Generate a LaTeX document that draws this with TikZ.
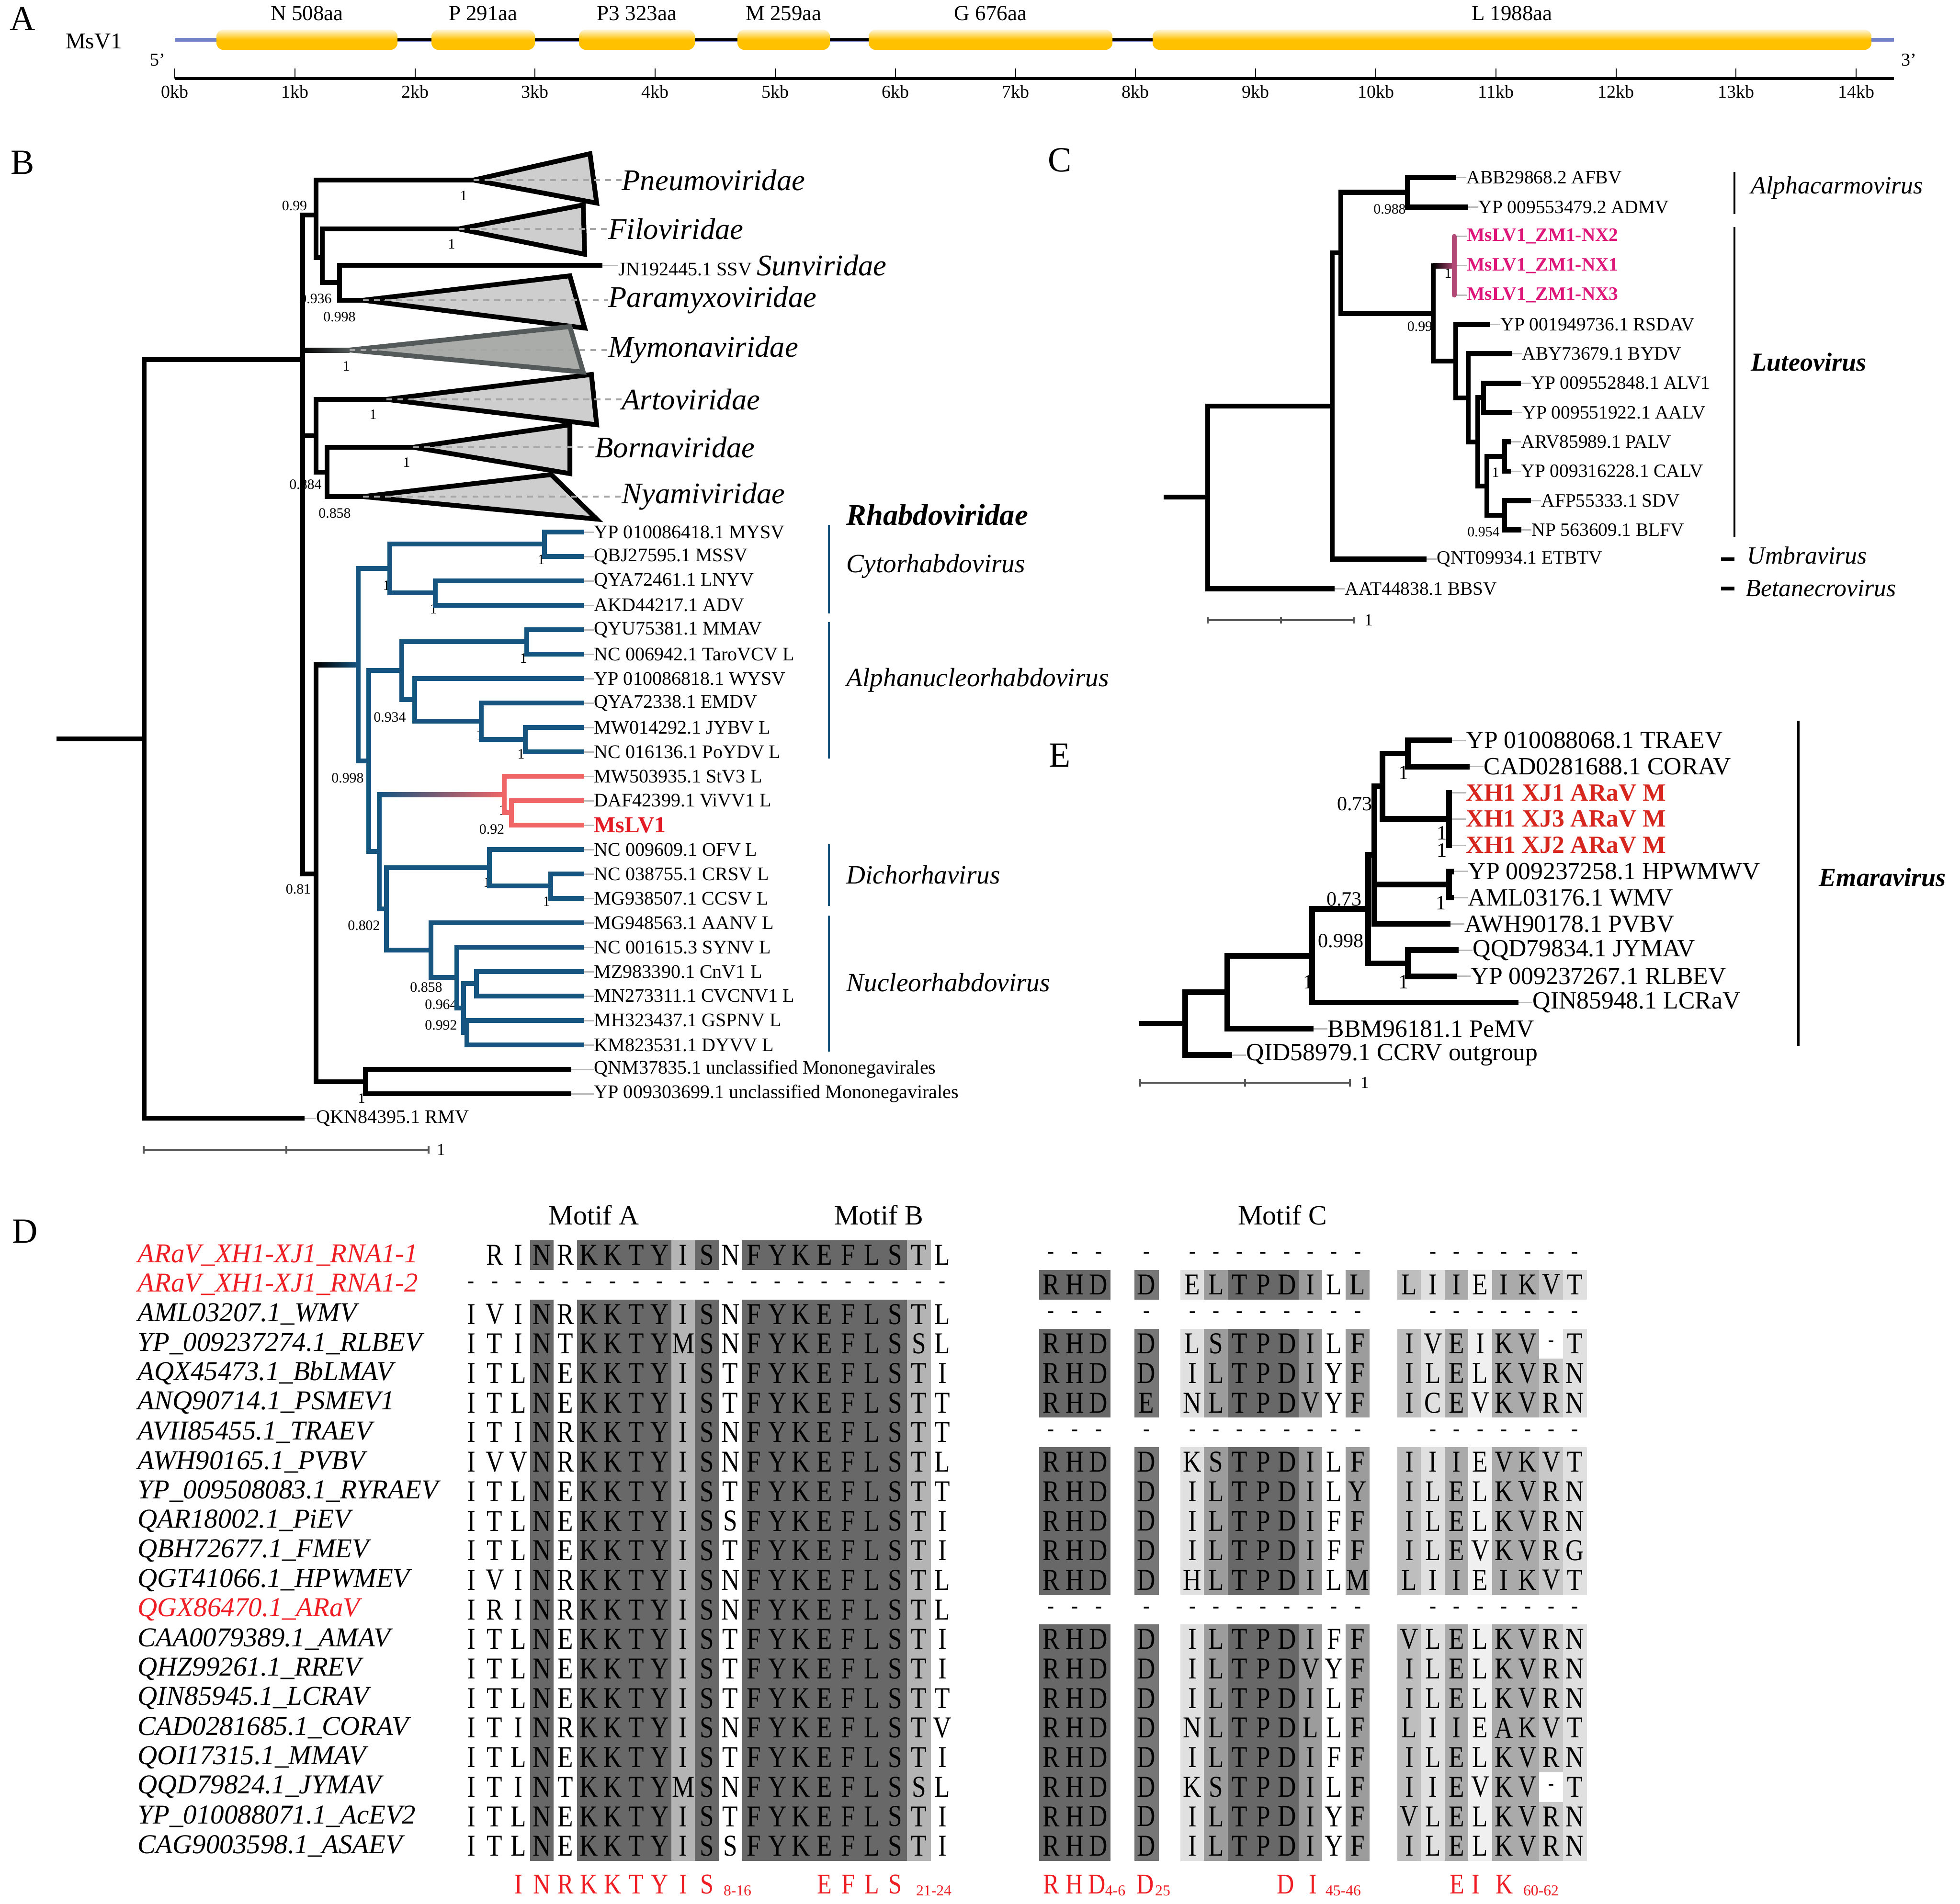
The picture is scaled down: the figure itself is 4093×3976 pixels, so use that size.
\documentclass[tikz,border=0pt]{standalone}
\usepackage{fontspec}
\setmainfont{Liberation Serif}
\newfontfamily\seqfont{Liberation Serif}[FakeStretch=0.84]
\usetikzlibrary{calc}

\definecolor{rhabdo}{RGB}{21,85,128}
\definecolor{salmon}{RGB}{240,102,102}
\definecolor{mslvred}{RGB}{228,26,36}
\definecolor{nxpink}{RGB}{222,22,122}
\definecolor{nxbranch}{RGB}{178,72,118}
\definecolor{genecol}{RGB}{255,193,0}
\definecolor{genomeblue}{RGB}{112,128,200}
\definecolor{cladefill}{RGB}{206,206,206}
\definecolor{mymofill}{RGB}{170,172,170}
\definecolor{mymoedge}{RGB}{84,90,90}
\definecolor{aravred}{RGB}{214,38,30}
\definecolor{namered}{RGB}{238,30,36}
\definecolor{shdark}{RGB}{104,104,104}
\definecolor{shdarkb}{RGB}{118,118,118}
\definecolor{shmid}{RGB}{156,156,156}
\definecolor{shlight}{RGB}{180,180,180}
\definecolor{shpale}{RGB}{224,224,224}
\definecolor{shgrey}{RGB}{170,170,170}
\definecolor{shsoft}{RGB}{190,190,190}
\definecolor{shfaint}{RGB}{240,240,240}
\definecolor{shlt}{RGB}{200,200,200}
\newcommand\fsz[1]{\fontsize{#1}{#1}\selectfont}

\begin{document}
\begin{tikzpicture}
[x=0.01cm, y=-0.01cm,
declare function={rowy(\x)=2621+61.7*\x; colab(\x)=984+49.2*\x;
  colc(\x)=(\x<3)*(2195+49.5*\x)+(\x==3)*2394+(\x>3)*(\x<12)*(2490+49.3*(\x-4))+(\x>11)*(2943+49.4*(\x-12));},
panel/.style={font=\fsz{21}},
brB/.style={line width=2.85pt, line cap=rect},
brR/.style={brB, draw=rhabdo},
brS/.style={brB, draw=salmon},
brC/.style={line width=3.1pt, line cap=rect},
brE/.style={line width=3.4pt, line cap=rect},
clade/.style={draw, fill=cladefill, line width=2.85pt, line join=miter},
cladedash/.style={draw=gray!70, line width=0.9pt, dash pattern=on 3.5pt off 3pt},
tipdash/.style={draw=gray!55, line width=0.85pt},
leafB/.style={anchor=west, inner sep=0pt, font=\fsz{11.4}},
family/.style={anchor=west, inner sep=0pt, font=\fsz{17.8}\itshape},
genus/.style={anchor=west, inner sep=0pt, font=\fsz{15.7}\itshape},
sup/.style={inner sep=0pt, font=\fsz{8.5}},
supE/.style={inner sep=0pt, font=\fsz{12}},
leafC/.style={anchor=west, inner sep=0pt, font=\fsz{11.2}},
leafE/.style={anchor=west, inner sep=0pt, font=\fsz{14.7}},
scalebar/.style={draw=black!65, line width=0.9pt},
genebox/.style={rounded corners=4pt, top color=genecol!15, bottom color=genecol, middle color=genecol},
genelab/.style={font=\fsz{12.8}},
kb/.style={font=\fsz{10.8}},
seqname/.style={anchor=west, inner sep=0pt, font=\fsz{16.2}\itshape},
aa/.style={inner sep=0pt, font=\fsz{18}\seqfont},
gapmark/.style={inner sep=0pt, font=\fsz{12}\bfseries},
motif/.style={font=\fsz{16.5}},
keyaa/.style={inner sep=0pt, font=\fsz{17}\seqfont, text=namered},
keypos/.style={inner sep=0pt, font=\fsz{9}, text=namered}]

\fill[white] (0,0) rectangle (4093,3976);
\useasboundingbox (0,0) rectangle (4093,3976);

\node[panel] (pA) at (47,39) {A};
\node[font=\fsz{13.4}] (msv) at (196,86) {MsV1};
\coordinate (g5) at (365,83);
\coordinate (g3) at (3955,83);
\draw[genomeblue, line width=2.3pt] (g5) -- (g3);
\draw[line width=1.7pt] ($(g5)+(92,0)$) -- ($(g3)+(-53,0)$);
\foreach \xa/\xb/\lab [count=\q] in {452/830/N 508aa, 901/1117/P 291aa, 1209/1451/P3 323aa, 1540/1733/M 259aa, 1814/2323/G 676aa, 2407/3908/L 1988aa} {
    \shade[genebox] (\xa,62) rectangle (\xb,104);
    \node[genelab] (gene\q) at ({(\xa+\xb)/2},28) {\lab};
}
\coordinate (r0) at (365,164);
\coordinate (r1) at (3955,164);
\draw[line width=1.6pt] (r0) -- (r1);
\foreach \kk in {0,...,14} {
    \draw[line width=0.6pt] (365+250.8*\kk,164) -- ++(0,-21);
    \node[kb] (kb\kk) at (365+250.8*\kk,192) {\kk kb};
}
\node[kb] (p5) at (329,125) {5'};
\node[kb] (p3) at (3986,125) {3'};

\node[panel] (pB) at (47,339) {B};
\foreach \val/\sx/\sy [count=\q] in {0.99/615/430, 1/968/409, 1/943/510, 0.936/659/624, 0.998/709/662, 1/723/765, 1/779/866, 1/849/966, 0.884/638/1012, 0.858/699/1072, 1/1130/1169, 1/807/1223, 1/905/1272, 1/1093/1375, 0.934/814/1498, 1/1088/1575, 1/1002/1535, 0.998/726/1625, 1/1049/1692, 0.92/1027/1732, 1/1017/1843, 1/1141/1883, 0.81/623/1857, 0.802/760/1933, 0.858/890/2062, 0.964/921/2098, 0.992/921/2141, 1/755/2294}
    \node[sup] (bs\q) at (\sx,\sy) {\val};

\foreach \lab [count=\kk from 0] in {YP 010086418.1 MYSV, QBJ27595.1 MSSV, QYA72461.1 LNYV, AKD44217.1 ADV, QYU75381.1 MMAV, NC 006942.1 TaroVCV L, YP 010086818.1 WYSV, QYA72338.1 EMDV, MW014292.1 JYBV L, NC 016136.1 PoYDV L, MW503935.1 StV3 L, DAF42399.1 ViVV1 L, \textcolor{mslvred}{\fsz{13.6}\bfseries MsLV1}, NC 009609.1 OFV L, NC 038755.1 CRSV L, MG938507.1 CCSV L, MG948563.1 AANV L, NC 001615.3 SYNV L, MZ983390.1 CnV1 L, MN273311.1 CVCNV1 L, MH323437.1 GSPNV L, KM823531.1 DYVV L, QNM37835.1 unclassified Mononegavirales, YP 009303699.1 unclassified Mononegavirales} {
    \pgfmathsetmacro\tipx{\kk<22 ? 1215 : 1188}
    \coordinate (bleaf\kk) at (\tipx,1111+51*\kk);
    \node[leafB] (blab\kk) at (1240,1111+51*\kk) {\lab};
    \draw[tipdash] (bleaf\kk) -- (blab\kk.west);
}
\coordinate (bleaf24) at (631,2335);
\node[leafB] (blab24) at (660,2335) {QKN84395.1 RMV};
\draw[tipdash] (bleaf24) -- (blab24.west);
\coordinate (ssv) at (1253,554);
\node[leafB] (ssvlab) at (1291,554) {JN192445.1 SSV {\fsz{17.8}\itshape Sunviridae}};
\draw[tipdash] (ssv) -- (ssvlab.west);

\coordinate (b0) at (123,1543);
\coordinate (broot) at (301,1543);
\coordinate (bsp) at (632,751);
\coordinate (b099) at (660,449);
\coordinate (bfilo) at (673,538);
\coordinate (bpara) at (709,590);
\coordinate (barto) at (660,910);
\coordinate (bbn) at (683,986);
\coordinate (bgrp) at (660,1825);
\coordinate (bunc) at (763,2259);
\coordinate (brh) at (748,1388);
\coordinate (bcyto) at (814,1187);
\coordinate (bmm) at (1137,1136);
\coordinate (bla) at (909,1238);
\coordinate (brh2) at (770,1589);
\coordinate (balpha) at (839,1400);
\coordinate (bmt) at (1100,1340);
\coordinate (bwy) at (866,1461);
\coordinate (bem) at (1005,1506);
\coordinate (bjp) at (1097,1544);
\coordinate (bmid) at (792,1778);
\coordinate (bms) at (1053,1659);
\coordinate (bvm) at (1068,1697);
\coordinate (bdn) at (807,1898);
\coordinate (bdi) at (1022,1812);
\coordinate (bcc) at (1150,1850);
\coordinate (bnu) at (900,1984);
\coordinate (bsy) at (954,2041);
\coordinate (bcv) at (968,2105);
\coordinate (bcn) at (995,2054);
\coordinate (bgd) at (975,2156);
\coordinate (apex-pne) at (989,376);
\coordinate (apex-fil) at (958,478);
\coordinate (apex-par) at (758,627);
\coordinate (apex-mym) at (730,731);
\coordinate (apex-art) at (807,834);
\coordinate (apex-bor) at (863,934);
\coordinate (apex-nya) at (758,1037);

\draw[brB] (b0) -- (broot);
\foreach \p/\ch in {broot/bsp, broot/bleaf24, bsp/b099, bsp/barto, bsp/bgrp, b099/apex-pne, b099/bfilo, bfilo/apex-fil, bfilo/bpara, bpara/ssv, bpara/apex-par, barto/apex-art, barto/bbn, bbn/apex-bor, bbn/apex-nya, bgrp/bunc, bunc/bleaf22, bunc/bleaf23}
    \draw[brB] (\p) |- (\ch);
\draw[brB] (bgrp) -- (bgrp |- brh);
\shade[left color=black, right color=rhabdo] ($(bgrp |- brh)+(0,-5)$) rectangle ($(brh)+(0,5)$);
\shade[left color=black, right color=mymoedge] ($(bsp |- apex-mym)+(0,-5)$) rectangle ($(apex-mym)+(0,5)$);
\foreach \p/\ch in {brh/bcyto, brh/brh2, bcyto/bmm, bcyto/bla, bmm/bleaf0, bmm/bleaf1, bla/bleaf2, bla/bleaf3, brh2/balpha, brh2/bmid, balpha/bmt, balpha/bwy, bmt/bleaf4, bmt/bleaf5, bwy/bleaf6, bwy/bem, bem/bleaf7, bem/bjp, bjp/bleaf8, bjp/bleaf9, bmid/bdn, bdn/bdi, bdn/bnu, bdi/bleaf13, bdi/bcc, bcc/bleaf14, bcc/bleaf15, bnu/bleaf16, bnu/bsy, bsy/bleaf17, bsy/bcv, bcv/bcn, bcv/bgd, bcn/bleaf18, bcn/bleaf19, bgd/bleaf20, bgd/bleaf21}
    \draw[brR] (\p) |- (\ch);
\draw[brR] (bmid) -- (bmid |- bms);
\shade[left color=rhabdo, right color=salmon] ($(bmid |- bms)+(0,-5)$) rectangle ($(bms)+(0,5)$);
\foreach \p/\ch in {bms/bleaf10, bms/bvm, bvm/bleaf11, bvm/bleaf12}
    \draw[brS] (\p) |- (\ch);

\foreach \nm/\tx/\ty/\ux/\uy/\lx/\lab in {pne/1232/321/1246/424/1298/Pneumoviridae, fil/1218/428/1221/531/1270/Filoviridae, par/1190/576/1221/685/1270/Paramyxoviridae, art/1235/782/1246/887/1298/Artoviridae, bor/1190/887/1190/989/1242/Bornaviridae, nya/1151/991/1246/1084/1298/Nyamiviridae} {
    \draw[clade] (apex-\nm) -- (\tx,\ty) -- (\ux,\uy) -- cycle;
    \node[family] (fam-\nm) at (\lx,{0} |- apex-\nm) {\lab};
    \draw[cladedash] (apex-\nm) -- (fam-\nm.west);
}
\draw[clade, draw=mymoedge, fill=mymofill] (apex-mym) -- (1190,682) -- (1218,777) -- cycle;
\node[family] (fam-mym) at (1270,731) {Mymonaviridae};
\draw[cladedash] (apex-mym) -- (fam-mym.west);

\node[genus, font=\fsz{17.8}\bfseries\itshape] (rhab) at (1767,1075) {Rhabdoviridae};
\foreach \ya/\yb/\lab/\yl [count=\q] in {1096/1281/Cytorhabdovirus/1182, 1299/1584/Alphanucleorhabdovirus/1420, 1763/1892/Dichorhavirus/1827, 1912/2196/Nucleorhabdovirus/2052} {
    \draw[rhabdo, line width=0.9pt] (1731,\ya) -- (1731,\yb);
    \node[genus] (gen\q) at (1767,\yl) {\lab};
}
\coordinate (sbb0) at (300,2401);
\coordinate (sbb1) at (895,2401);
\draw[scalebar] (sbb0) -- (sbb1);
\foreach \sx in {300,598,895} \draw[scalebar] (\sx,2393) -- (\sx,2409);
\node[font=\fsz{10}] (sbbl) at (921,2401) {1};

\node[panel] (pC) at (2213,334) {C};
\foreach \tx/\lab [count=\kk from 0] in {3036/ABB29868.2 AFBV, 3061/YP 009553479.2 ADMV, 3037/{\textcolor{nxpink}{\bfseries MsLV1\_ZM1-NX2}}, 3037/{\textcolor{nxpink}{\bfseries MsLV1\_ZM1-NX1}}, 3037/{\textcolor{nxpink}{\bfseries MsLV1\_ZM1-NX3}}, 3107/YP 001949736.1 RSDAV, 3152/ABY73679.1 BYDV, 3171/YP 009552848.1 ALV1, 3153/YP 009551922.1 AALV, 3150/ARV85989.1 PALV, 3150/YP 009316228.1 CALV, 3192/AFP55333.1 SDV, 3172/NP 563609.1 BLFV, 2974/QNT09934.1 ETBTV, 2782/AAT44838.1 BBSV} {
    \coordinate (cleaf\kk) at (\tx,371+61.3*\kk);
    \node[leafC] (clab\kk) at (\tx+26,371+61.3*\kk) {\lab};
    \draw[tipdash] (cleaf\kk) -- (clab\kk.west);
}
\foreach \val/\sx/\sy [count=\q] in {0.988/2902/437, 1/3024/571, 0.99/2965/682, 1/3123/987, 0.954/3098/1111}
    \node[sup] (cs\q) at (\sx,\sy) {\val};
\coordinate (c0) at (2435,1038);
\coordinate (croot) at (2522,1038);
\coordinate (ctop) at (2782,848);
\coordinate (cin) at (2800,528);
\coordinate (cac) at (2939,401.5);
\coordinate (clu) at (2993,654.5);
\coordinate (cnx) at (3037,555);
\coordinate (crs) at (3040,754);
\coordinate (cby) at (3066,831);
\coordinate (cal) at (3086,923);
\coordinate (caa) at (3098,830.5);
\coordinate (cps) at (3105,1015);
\coordinate (cpc) at (3142,953.5);
\coordinate (csb) at (3142,1076);
\draw[brC] (c0) -- (croot);
\foreach \p/\ch in {croot/ctop, croot/cleaf14, ctop/cin, ctop/cleaf13, cin/cac, cin/clu, cac/cleaf0, cac/cleaf1, clu/crs, crs/cleaf5, crs/cby, cby/cleaf6, cby/cal, cal/caa, cal/cps, caa/cleaf7, caa/cleaf8, cps/cpc, cps/csb, cpc/cleaf9, cpc/cleaf10, csb/cleaf11, csb/cleaf12}
    \draw[brC] (\p) |- (\ch);
\draw[brC] (clu) -- (clu |- cnx);
\shade[left color=black, right color=nxbranch] ($(clu |- cnx)+(0,-5.5)$) rectangle ($(cnx)+(0,5.5)$);
\draw[nxbranch, line width=2.85pt, line cap=round] (cleaf2) -- (cleaf4);
\draw[line width=1.1pt] (3622,359) -- (3622,447);
\draw[line width=1.1pt] (3622,474) -- (3622,1121);
\draw[line width=2.2pt] (3594,1168) -- (3622,1168);
\draw[line width=2.2pt] (3594,1229) -- (3622,1229);
\node[genus, font=\fsz{14.7}\itshape] (alpc) at (3656,392) {Alphacarmovirus};
\node[genus, font=\fsz{15.4}\bfseries\itshape] (lute) at (3656,756) {Luteovirus};
\node[genus, font=\fsz{14.7}\itshape] (umbr) at (3648,1160) {Umbravirus};
\node[genus, font=\fsz{14.7}\itshape] (betn) at (3645,1229) {Betanecrovirus};
\coordinate (sbc0) at (2522,1295);
\coordinate (sbc1) at (2827,1295);
\draw[scalebar] (sbc0) -- (sbc1);
\foreach \sx in {2522,2675,2827} \draw[scalebar] (\sx,1288) -- (\sx,1302);
\node[font=\fsz{10}] (sbcl) at (2858,1295) {1};

\node[panel] (pE) at (2213,1577) {E};
\foreach \tx/\lab [count=\kk from 0] in {3026/YP 010088068.1 TRAEV, 3063/CAD0281688.1 CORAV, 3026/{\textcolor{aravred}{\bfseries XH1 XJ1 ARaV M}}, 3026/{\textcolor{aravred}{\bfseries XH1 XJ3 ARaV M}}, 3026/{\textcolor{aravred}{\bfseries XH1 XJ2 ARaV M}}, 3030/YP 009237258.1 HPWMWV, 3030/AML03176.1 WMV, 3023/AWH90178.1 PVBV, 3040/QQD79834.1 JYMAV, 3036/YP 009237267.1 RLBEV, 3165/QIN85948.1 LCRaV, 2737/BBM96181.1 PeMV, 2567/QID58979.1 CCRV outgroup} {
    \coordinate (eleaf\kk) at (\tx,1546+54.75*\kk);
    \node[leafE] (elab\kk) at (\tx+35,1546+54.75*\kk) {\lab};
    \draw[tipdash] (eleaf\kk) -- (elab\kk.west);
}
\foreach \val/\sx/\sy [count=\q] in {1/2931/1614, 0.73/2829/1679, 1/3011/1740, 1/3011/1776, 0.73/2807/1878, 1/3009/1886, 0.998/2800/1965, 1/2931/2051, 1/2732/2051}
    \node[supE] (es\q) at (\sx,\sy) {\val};
\coordinate (e0) at (2385,2137.5);
\coordinate (eroot) at (2475,2137.5);
\coordinate (en1) at (2563,2072);
\coordinate (en2) at (2740,1996);
\coordinate (en3) at (2857,1898);
\coordinate (en4) at (2870,1785);
\coordinate (en5) at (2887,1642);
\coordinate (entc) at (2940,1573.5);
\coordinate (enxj) at (3026,1710);
\coordinate (enhw) at (3026,1847);
\coordinate (enjr) at (2940,2011.5);
\draw[brE] (e0) -- (eroot);
\foreach \p/\ch in {eroot/en1, eroot/eleaf12, en1/en2, en1/eleaf11, en2/en3, en2/eleaf10, en3/en4, en3/enjr, enjr/eleaf8, enjr/eleaf9, en4/en5, en4/enhw, en4/eleaf7, enhw/eleaf5, enhw/eleaf6, en5/entc, en5/enxj, entc/eleaf0, entc/eleaf1, enxj/eleaf2, enxj/eleaf3, enxj/eleaf4}
    \draw[brE] (\p) |- (\ch);
\draw[line width=1.4pt] (3755,1505) -- (3755,2184);
\node[genus, font=\fsz{15.4}\bfseries\itshape] (emar) at (3798,1832) {Emaravirus};
\coordinate (sbe0) at (2381,2261);
\coordinate (sbe1) at (2819,2261);
\draw[scalebar] (sbe0) -- (sbe1);
\foreach \sx in {2381,2600,2819} \draw[scalebar] (\sx,2253) -- (\sx,2269);
\node[font=\fsz{10}] (sbel) at (2850,2261) {1};

\node[panel] (pD) at (52,2571) {D};
\foreach \lab/\sx [count=\q] in {Motif A/1240, Motif B/1835, Motif C/2678}
    \node[motif] (motif\q) at (\sx,2537) {\lab};
\foreach \nm/\col [count=\rw from 0] in {ARaV\_XH1-XJ1\_RNA1-1/namered, ARaV\_XH1-XJ1\_RNA1-2/namered, AML03207.1\_WMV/black, YP\_009237274.1\_RLBEV/black, AQX45473.1\_BbLMAV/black, ANQ90714.1\_PSMEV1/black, AVII85455.1\_TRAEV/black, AWH90165.1\_PVBV/black, YP\_009508083.1\_RYRAEV/black, QAR18002.1\_PiEV/black, QBH72677.1\_FMEV/black, QGT41066.1\_HPWMEV/black, QGX86470.1\_ARaV/namered, CAA0079389.1\_AMAV/black, QHZ99261.1\_RREV/black, QIN85945.1\_LCRAV/black, CAD0281685.1\_CORAV/black, QOI17315.1\_MMAV/black, QQD79824.1\_JYMAV/black, YP\_010088071.1\_AcEV2/black, CAG9003598.1\_ASAEV/black}
    \node[seqname, text=\col] (sn\rw) at (287,{rowy(\rw)}) {\nm};

\foreach \xa/\xb/\col in {3/3/shdark, 5/8/shdark, 9/9/shlight, 10/10/shdark, 12/18/shdark, 19/19/shlight} {
    \fill[\col] ({colab(\xa)-24.8},2590) rectangle ({colab(\xb)+24.8},2652);
    \fill[\col] ({colab(\xa)-24.8},2714) rectangle ({colab(\xb)+24.8},3886);
}
\foreach \ra/\rb in {1/1, 3/5, 7/11, 13/20} {
    \pgfmathsetmacro\ya{rowy(\ra)-30.9}
    \pgfmathsetmacro\yb{rowy(\rb)+30.9}
    \fill[shdark] (2170,\ya) rectangle (2319,\yb);
    \fill[shdarkb] (2369,\ya) rectangle (2420,\yb);
    \foreach \col [count=\q from 0] in {shpale,shmid,shdark,shdark,shdark,shmid,white,shmid}
        \fill[\col] (2465+49.3*\q,\ya) rectangle (2514.6+49.3*\q,\yb);
    \foreach \col [count=\q from 0] in {shsoft,shpale,shgrey,shfaint,shgrey,shgrey,shlt,shpale}
        \fill[\col] (2918+49.4*\q,\ya) rectangle (2967.7+49.4*\q,\yb);
}
\foreach \rw in {3,18}
    \fill[white] (3214.4,{rowy(\rw)-30.9}) rectangle (3263.8,{rowy(\rw)+30.9});

\foreach \ch [count=\cc from 1] in {R,I,N,R,K,K,T,Y,I,S,N,F,Y,K,E,F,L,S,T,L}
    \node[aa] (a0-\cc) at ({colab(\cc)},{rowy(0)}) {\ch};
\foreach \cc in {0,...,20}
    \node[gapmark] (ab\cc) at ({colab(\cc)},{rowy(1)}) {-};
\foreach \rw/\seq in {2/{I,V,I,N,R,K,K,T,Y,I,S,N,F,Y,K,E,F,L,S,T,L}, 3/{I,T,I,N,T,K,K,T,Y,M,S,N,F,Y,K,E,F,L,S,S,L}, 4/{I,T,L,N,E,K,K,T,Y,I,S,T,F,Y,K,E,F,L,S,T,I}, 5/{I,T,L,N,E,K,K,T,Y,I,S,T,F,Y,K,E,F,L,S,T,T}, 6/{I,T,I,N,R,K,K,T,Y,I,S,N,F,Y,K,E,F,L,S,T,T}, 7/{I,V,V,N,R,K,K,T,Y,I,S,N,F,Y,K,E,F,L,S,T,L}, 8/{I,T,L,N,E,K,K,T,Y,I,S,T,F,Y,K,E,F,L,S,T,T}, 9/{I,T,L,N,E,K,K,T,Y,I,S,S,F,Y,K,E,F,L,S,T,I}, 10/{I,T,L,N,E,K,K,T,Y,I,S,T,F,Y,K,E,F,L,S,T,I}, 11/{I,V,I,N,R,K,K,T,Y,I,S,N,F,Y,K,E,F,L,S,T,L}, 12/{I,R,I,N,R,K,K,T,Y,I,S,N,F,Y,K,E,F,L,S,T,L}, 13/{I,T,L,N,E,K,K,T,Y,I,S,T,F,Y,K,E,F,L,S,T,I}, 14/{I,T,L,N,E,K,K,T,Y,I,S,T,F,Y,K,E,F,L,S,T,I}, 15/{I,T,L,N,E,K,K,T,Y,I,S,T,F,Y,K,E,F,L,S,T,T}, 16/{I,T,I,N,R,K,K,T,Y,I,S,N,F,Y,K,E,F,L,S,T,V}, 17/{I,T,L,N,E,K,K,T,Y,I,S,T,F,Y,K,E,F,L,S,T,I}, 18/{I,T,I,N,T,K,K,T,Y,M,S,N,F,Y,K,E,F,L,S,S,L}, 19/{I,T,L,N,E,K,K,T,Y,I,S,T,F,Y,K,E,F,L,S,T,I}, 20/{I,T,L,N,E,K,K,T,Y,I,S,S,F,Y,K,E,F,L,S,T,I}} {
    \foreach \ch [count=\cc from 0] in \seq
        \node[aa] (a\rw-\cc) at ({colab(\cc)},{rowy(\rw)}) {\ch};
}
\foreach \rw/\seq in {1/{R,H,D,D,E,L,T,P,D,I,L,L,L,I,I,E,I,K,V,T}, 3/{R,H,D,D,L,S,T,P,D,I,L,F,I,V,E,I,K,V,{\fsz{12}\bfseries -},T}, 4/{R,H,D,D,I,L,T,P,D,I,Y,F,I,L,E,L,K,V,R,N}, 5/{R,H,D,E,N,L,T,P,D,V,Y,F,I,C,E,V,K,V,R,N}, 7/{R,H,D,D,K,S,T,P,D,I,L,F,I,I,I,E,V,K,V,T}, 8/{R,H,D,D,I,L,T,P,D,I,L,Y,I,L,E,L,K,V,R,N}, 9/{R,H,D,D,I,L,T,P,D,I,F,F,I,L,E,L,K,V,R,N}, 10/{R,H,D,D,I,L,T,P,D,I,F,F,I,L,E,V,K,V,R,G}, 11/{R,H,D,D,H,L,T,P,D,I,L,M,L,I,I,E,I,K,V,T}, 13/{R,H,D,D,I,L,T,P,D,I,F,F,V,L,E,L,K,V,R,N}, 14/{R,H,D,D,I,L,T,P,D,V,Y,F,I,L,E,L,K,V,R,N}, 15/{R,H,D,D,I,L,T,P,D,I,L,F,I,L,E,L,K,V,R,N}, 16/{R,H,D,D,N,L,T,P,D,L,L,F,L,I,I,E,A,K,V,T}, 17/{R,H,D,D,I,L,T,P,D,I,F,F,I,L,E,L,K,V,R,N}, 18/{R,H,D,D,K,S,T,P,D,I,L,F,I,I,E,V,K,V,{\fsz{12}\bfseries -},T}, 19/{R,H,D,D,I,L,T,P,D,I,Y,F,V,L,E,L,K,V,R,N}, 20/{R,H,D,D,I,L,T,P,D,I,Y,F,I,L,E,L,K,V,R,N}} {
    \foreach \ch [count=\cc from 0] in \seq
        \node[aa] (m\rw-\cc) at ({colc(\cc)},{rowy(\rw)}) {\ch};
}
\foreach \rw in {0,2,6,12} {
    \foreach \cc in {0,...,19} {
        \ifnum\cc=12 \else
            \node[gapmark] (g\rw-\cc) at ({colc(\cc)},{rowy(\rw)}) {-};
        \fi
    }
}

\foreach \ch [count=\cc from 2] in {I,N,R,K,K,T,Y,I,S}
    \node[keyaa] (ka\cc) at ({colab(\cc)},3935) {\ch};
\foreach \ch [count=\cc from 15] in {E,F,L,S}
    \node[keyaa] (kb\cc) at ({colab(\cc)},3935) {\ch};
\foreach \ch/\sx [count=\q] in {R/2195, H/2244, D/2291, D/2392, D/2685, I/2742, E/3043, I/3082, K/3142}
    \node[keyaa] (kc\q) at (\sx,3935) {\ch};
\foreach \sub/\sx [count=\q] in {8-16/1540, 21-24/1950, 4-6/2329, 25/2428, 45-46/2805, 60-62/3218}
    \node[keypos] (kq\q) at (\sx,3948) {\sub};

\end{tikzpicture}
\end{document}
